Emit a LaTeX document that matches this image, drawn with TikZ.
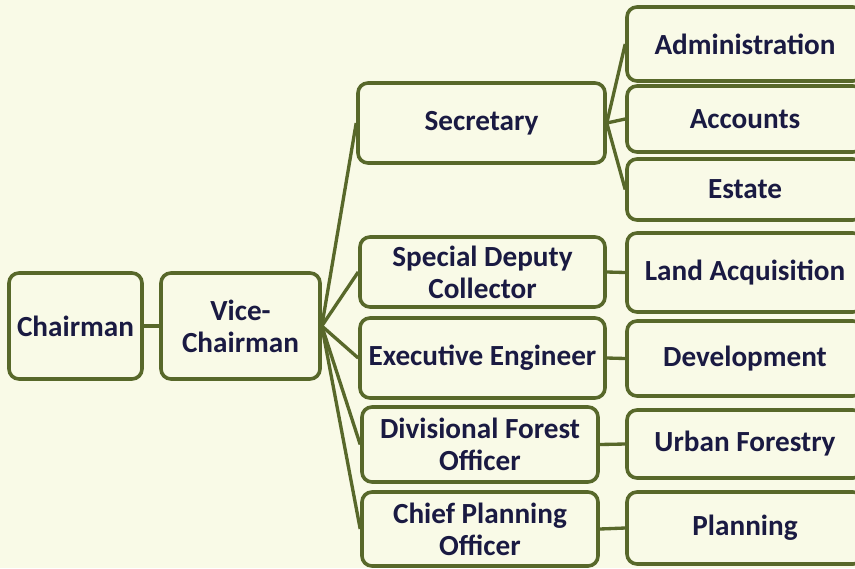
\documentclass[tikz,border=0pt]{standalone}
\usepackage{fontspec}
\setmainfont{Carlito}
\definecolor{bgcream}{RGB}{249,250,231}
\definecolor{boxline}{RGB}{88,104,42}
\definecolor{boxtext}{RGB}{26,26,66}

\tikzset{every picture/.style={line width=0.75pt}}
\tikzset{
  orgbox/.style={draw=boxline, line width=2.7pt, rounded corners=7.5pt, fill=bgcream,
    inner sep=0pt, align=center, text=boxtext,
    font=\fontsize{21.9}{24}\selectfont\bfseries},
  orglink/.style={draw=boxline, line width=2.5pt}
}

\begin{document}
\begin{tikzpicture}[x=0.75pt,y=0.75pt,yscale=-1,xscale=1]
	%set diagram to 855 x 568
	\useasboundingbox (0,0) rectangle (855,568);
	\clip (0,0) rectangle (855,568);
	\fill [bgcream] (0,0) rectangle (855,568);

	% Left column
	\node [orgbox, minimum width=99.75pt, minimum height=79.5pt] (chair) at (75.5,326) {Chairman};
	\node [orgbox, minimum width=119.25pt, minimum height=79.5pt] (vice) at (240.5,326) {Vice-\\Chairman};

	% Middle column
	\node [orgbox, minimum width=185.25pt, minimum height=60pt] (sec) at (481.5,123) {Secretary};
	\node [orgbox, minimum width=183.75pt, minimum height=52.5pt] (sdc) at (482.5,272) {Special Deputy\\Collector};
	\node [orgbox, minimum width=183.75pt, minimum height=60pt] (exe) at (482.5,358) {Executive Engineer};
	\node [orgbox, minimum width=177pt, minimum height=56.25pt] (dfo) at (480,444.5) {Divisional Forest\\Officer};
	\node [orgbox, minimum width=177pt, minimum height=55.5pt] (cpo) at (480,529) {Chief Planning\\Officer};

	% Right column
	\node [orgbox, minimum width=177pt, minimum height=55.5pt] (adm) at (745,44) {Administration};
	\node [orgbox, minimum width=177pt, minimum height=49.5pt] (acc) at (745,119) {Accounts};
	\node [orgbox, minimum width=177pt, minimum height=45.75pt] (est) at (745,189.5) {Estate};
	\node [orgbox, minimum width=177pt, minimum height=59.25pt] (lan) at (745,272.5) {Land Acquisition};
	\node [orgbox, minimum width=177pt, minimum height=56.25pt] (dev) at (745,358.5) {Development};
	\node [orgbox, minimum width=177pt, minimum height=51pt] (urb) at (745,444) {Urban Forestry};
	\node [orgbox, minimum width=177pt, minimum height=54pt] (pla) at (745,528) {Planning};

	% Links
	\draw [orglink] (chair.east) -- (vice.west);
	\foreach \sub in {sec,sdc,exe,dfo,cpo}
		\draw [orglink] (vice.east) -- (\sub.west);
	\foreach \sub in {adm,acc,est}
		\draw [orglink] (sec.east) -- (\sub.west);
	\draw [orglink] (sdc.east) -- (lan.west);
	\draw [orglink] (exe.east) -- (dev.west);
	\draw [orglink] (dfo.east) -- (urb.west);
	\draw [orglink] (cpo.east) -- (pla.west);

\end{tikzpicture}
\end{document}
